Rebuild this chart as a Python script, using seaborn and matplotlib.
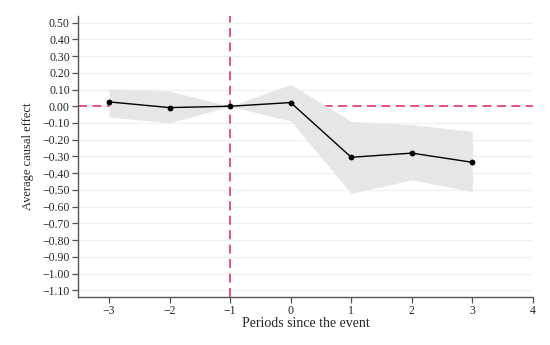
import matplotlib
matplotlib.use("Agg")
import numpy as np
import pandas as pd
import seaborn as sns
import matplotlib.pyplot as plt
from matplotlib.ticker import FuncFormatter

# datos
periods = [-3, -2, -1, 0, 1, 2, 3]
effect = [0.026, -0.008, 0.0, 0.022, -0.305, -0.280, -0.335]
ci_upper = [0.105, 0.090, 0.0, 0.130, -0.090, -0.110, -0.150]
ci_lower = [-0.064, -0.100, 0.0, -0.088, -0.520, -0.440, -0.510]
y_ticks = np.round(np.arange(-1.1, 0.51, 0.1), 2)
x_ticks = [-3, -2, -1, 0, 1, 2, 3, 4]

df = pd.DataFrame({"period": periods, "effect": effect,
                   "upper": ci_upper, "lower": ci_lower})

sns.set_style("white")
plt.rcParams["font.family"] = ["Liberation Serif", "DejaVu Serif"]

fig = plt.figure(figsize=(5.5, 3.45), dpi=100)
ax = fig.add_axes([0.142, 0.139, 0.827, 0.815])

# lineas de la grilla
for yv in y_ticks:
    ax.axhline(yv, color="#eaf3f4", lw=0.9, zorder=0)

ax.axhline(0, color="#e8456b", lw=1.3, ls=(0, (5, 3)), zorder=1)
ax.fill_between(df["period"], df["lower"], df["upper"], color="#e6e6e6",
                lw=0, zorder=2)
ax.axvline(-1, color="#e8456b", lw=1.3, ls=(0, (5, 3)), zorder=3)
sns.lineplot(data=df, x="period", y="effect", color="black", lw=1.0,
             marker="o", markersize=4.2, markeredgewidth=0, ax=ax, zorder=4)

ax.set_xlim(-3.51, 4.0)
ax.set_ylim(-1.14, 0.54)
ax.set_yticks(y_ticks)
ax.set_xticks(x_ticks)
fmt_minus = lambda s: s.replace("-", "\u2212")
ax.yaxis.set_major_formatter(FuncFormatter(lambda v, p: fmt_minus(f"{v:.2f}")))
ax.xaxis.set_major_formatter(FuncFormatter(lambda v, p: fmt_minus(f"{v:.0f}")))

for s in ["top", "right"]:
    ax.spines[s].set_visible(False)
for s in ["left", "bottom"]:
    ax.spines[s].set_color("#555555")
    ax.spines[s].set_linewidth(1.0)
ax.tick_params(axis="both", direction="out", length=4, width=0.9,
               color="#555555", labelsize=8.5, pad=2, left=True, bottom=True)

ax.set_xlabel("Periods since the event", fontsize=10, labelpad=0)
ax.set_ylabel("Average causal effect", fontsize=9, labelpad=6)

fig.savefig("out.png", dpi=100)
